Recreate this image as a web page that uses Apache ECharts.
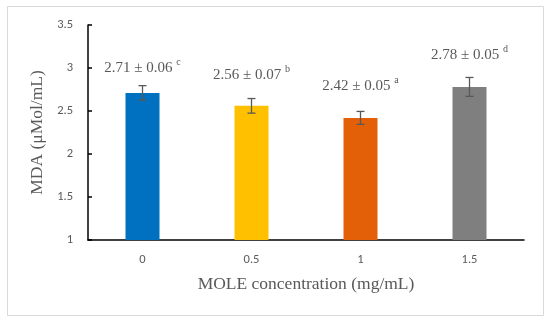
<!DOCTYPE html>
<html><head><meta charset="utf-8">
<script src="https://cdn.jsdelivr.net/npm/echarts@6/dist/echarts.min.js"></script>
<style>html,body{margin:0;padding:0;background:#fff}#c{width:550px;height:322px}</style>
</head><body><div id="c"></div>
<script>
var categories = ['0', '0.5', '1', '1.5'];
var means = [2.71, 2.56, 2.42, 2.78];
var labelSD = ['0.06', '0.07', '0.05', '0.05'];
var letters = ['c', 'b', 'a', 'd'];
var errors = [0.085, 0.085, 0.075, 0.11];
var colors = ['#0070C0', '#FFC000', '#E36008', '#7F7F7F'];
var labelDist = [10, 16, 18, 15];
var yTicks = ['1', '1.5', '2', '2.5', '3', '3.5'];

var serif = '"Liberation Serif", "Times New Roman", serif';
var sans = 'Carlito, "Open Sans", "Liberation Sans", sans-serif';
var chart = echarts.init(document.getElementById('c'));
chart.setOption({
  animation: false,
  graphic: [{type: 'rect', shape: {x: 7.5, y: 6.5, width: 536, height: 309},
    style: {fill: 'none', stroke: '#d9d9d9', lineWidth: 1}}],
  grid: {left: 88, right: 26, top: 25, bottom: 82},
  xAxis: {
    type: 'category', data: categories,
    axisLine: {lineStyle: {color: '#000', width: 1.5}},
    axisTick: {show: false},
    axisLabel: {color: '#595959', fontSize: 12.5, fontFamily: sans, margin: 13},
    name: 'MOLE concentration (mg/mL)', nameLocation: 'middle', nameGap: 35,
    nameTextStyle: {color: '#595959', fontSize: 17.5, fontFamily: serif}
  },
  yAxis: {
    type: 'value', min: 1, max: 3.5, interval: 0.5,
    axisLine: {show: true, lineStyle: {color: '#000', width: 1.5}},
    axisTick: {show: true, inside: true, length: 4, lineStyle: {color: '#000', width: 1.5}},
    splitLine: {show: false},
    axisLabel: {color: '#595959', fontSize: 12.5, fontFamily: sans, margin: 15,
      formatter: function (v) { var s = String(v); return yTicks.indexOf(s) >= 0 ? s : ''; }},
    name: 'MDA (\u03bcMol/mL)', nameLocation: 'middle', nameGap: 38,
    nameTextStyle: {color: '#595959', fontSize: 17.5, fontFamily: serif}
  },
  series: [{
    type: 'bar', barWidth: 34,
    data: means.map(function (v, i) {
      return {value: v, itemStyle: {color: colors[i]},
        label: {distance: labelDist[i] + errors[i] * 86}};
    }),
    label: {
      show: true, position: 'top',
      formatter: function (p) {
        var i = p.dataIndex;
        return '{m|' + means[i].toFixed(2) + ' \u00b1 ' + labelSD[i] + ' }{s|' + letters[i] + '}';
      },
      rich: {
        m: {fontSize: 15, color: '#595959', fontFamily: serif, lineHeight: 18, verticalAlign: 'bottom'},
        s: {fontSize: 10, color: '#595959', fontFamily: serif, lineHeight: 18, verticalAlign: 'top', padding: [0, 0, 6, 0]}
      }
    }
  }, {
    type: 'custom',
    data: means.map(function (v, i) { return [i, v - errors[i], v + errors[i]]; }),
    encode: {x: 0, y: [1, 2]},
    z: 10,
    renderItem: function (params, api) {
      var lo = api.coord([api.value(0), api.value(1)]);
      var hi = api.coord([api.value(0), api.value(2)]);
      var w = 4;
      var st = {stroke: '#595959', lineWidth: 1.3};
      return {type: 'group', children: [
        {type: 'line', shape: {x1: hi[0], y1: hi[1], x2: lo[0], y2: lo[1]}, style: st},
        {type: 'line', shape: {x1: hi[0] - w, y1: hi[1], x2: hi[0] + w, y2: hi[1]}, style: st},
        {type: 'line', shape: {x1: lo[0] - w, y1: lo[1], x2: lo[0] + w, y2: lo[1]}, style: st}
      ]};
    }
  }]
});
</script></body></html>
